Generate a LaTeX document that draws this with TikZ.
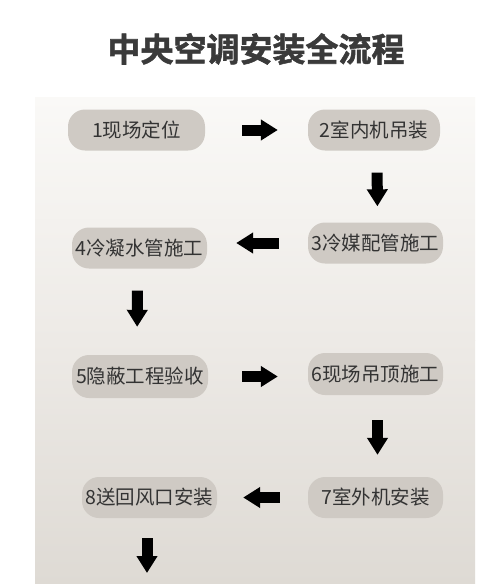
\documentclass[tikz,border=0pt]{standalone}
\usepackage{fontspec}
\newfontfamily\cjk{Noto Sans CJK SC}
\newfontfamily\cjkb{Noto Sans CJK SC}[BoldFont=* Bold, BoldFeatures={FakeBold=1.6}]
\usetikzlibrary{arrows.meta}
\definecolor{boxfill}{HTML}{CFCAC4}
\definecolor{txt}{HTML}{333333}
\definecolor{titlec}{HTML}{3A3A3A}
\definecolor{paneltop}{HTML}{FAF9F7}
\definecolor{panelmid}{HTML}{EDEAE6}
\definecolor{panelbot}{HTML}{DEDAD4}
\tikzset{
  stepbox/.style={fill=boxfill, rounded corners=17pt, minimum height=41pt,
    text=txt, font=\cjk\fontsize{19.5}{21}\selectfont, inner sep=0pt},
  flowarrow/.style={draw=black, line width=11pt,
    -{Triangle[length=17pt,width=20pt]}},
}
\begin{document}
\begin{tikzpicture}[x=1pt,y=-1pt]
\useasboundingbox (0,0) rectangle (500,584);
\fill[white] (0,0) rectangle (500,584);
\shade[top color=paneltop, bottom color=panelmid] (35,97) rectangle (475,340);
\shade[top color=panelmid, bottom color=panelbot] (35,340) rectangle (475,584);
\node[text=titlec, font=\cjkb\bfseries\fontsize{33}{35}\selectfont] (title) at (256,49) {中央空调安装全流程};
\node[stepbox, minimum width=137pt] (b1) at (136.5,130) {1现场定位};
\node[stepbox, minimum width=132pt] (b2) at (374,130) {2室内机吊装};
\node[stepbox, minimum width=135pt] (b3) at (375.5,243) {3冷媒配管施工};
\node[stepbox, minimum width=135pt] (b4) at (139.5,248) {4冷凝水管施工};
\node[stepbox, minimum width=136pt, minimum height=43pt] (b5) at (140,376.5) {5隐蔽工程验收};
\node[stepbox, minimum width=135pt, minimum height=42pt] (b6) at (375.5,374) {6现场吊顶施工};
\node[stepbox, minimum width=135pt] (b7) at (375.5,497.5) {7室外机安装};
\node[stepbox, minimum width=135pt] (b8) at (149.5,497.5) {8送回风口安装};
\coordinate (end) at (147,573);
\draw[flowarrow, shorten <=37pt, shorten >=30pt] (b1.east) -- (b2.west);
\draw[flowarrow, shorten <=22pt, shorten >=16pt] ([xshift=3pt]b2.south) -- ([xshift=2pt]b3.north);
\draw[flowarrow, shorten <=29pt, shorten >=29pt] (b3.west) -- (b4.east |- b3.west);
\draw[flowarrow, shorten <=22pt, shorten >=28pt] ([xshift=-2pt]b4.south) -- ([xshift=-3pt]b5.north);
\draw[flowarrow, shorten <=34pt, shorten >=30pt] (b5.east) -- (b6.west |- b5.east);
\draw[flowarrow, shorten <=25pt, shorten >=22pt] ([xshift=2pt]b6.south) -- ([xshift=2pt]b7.north);
\draw[flowarrow, shorten <=28pt, shorten >=26pt] (b7.west) -- (b8.east);
\draw[flowarrow, shorten <=20pt] ([xshift=-2.5pt]b8.south) -- (end);
\end{tikzpicture}
\end{document}
